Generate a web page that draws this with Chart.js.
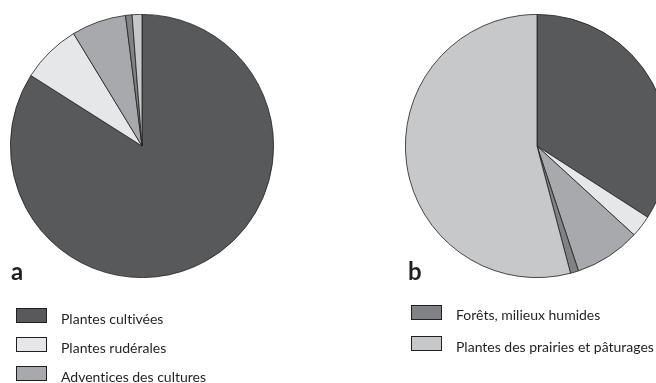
<!DOCTYPE html>
<html>
<head>
<meta charset="utf-8">
<script src="https://cdn.jsdelivr.net/npm/chart.js@4"></script>
<style>
  body { margin: 0; background: #fff; }
  #page { position: relative; width: 656px; height: 383px; overflow: hidden; font-family: Lato, sans-serif; color: #231f20; font-variant-ligatures: none; }
  .pie { position: absolute; width: 264px; height: 264px; }
  .tag { position: absolute; font: bold 24px Lato, sans-serif; line-height: 24px; }
  .row { position: absolute; height: 16px; }
  .sw { position: absolute; left: 0; width: 29px; height: 13px; border: 1px solid #231f20; }
  .txt { position: absolute; left: 45px; top: 2.5px; font-size: 14px; line-height: 16px; white-space: nowrap; }
</style>
</head>
<body>
<div id="page">
  <div class="pie" style="left:10px; top:14px;"><canvas id="pieA"></canvas></div>
  <div class="pie" style="left:405px; top:14px;"><canvas id="pieB"></canvas></div>
  <div class="tag" style="left:11px; top:259px;">a</div>
  <div class="tag" style="left:408px; top:259px;">b</div>
  <div id="legendA"></div>
  <div id="legendB"></div>
</div>
<script>
// categories, in drawing order (clockwise from 12 o'clock)
var categories = ['Plantes cultivées', 'Plantes rudérales', 'Adventices des cultures', 'Forêts, milieux humides', 'Plantes des prairies et pâturages'];
// shares in percent
var valuesA = [84.0, 7.3, 6.7, 0.8, 1.2];
var valuesB = [34.1, 2.7, 8.1, 1.0, 54.1];
var colors = ['#58595b', '#e6e7e8', '#a7a9ac', '#808285', '#c7c8ca'];

// which entries each legend lists
var legendAItems = [0, 1, 2];
var legendBItems = [3, 4];

function makePie(id, values) {
    var ctx = document.getElementById(id).getContext('2d');
    return new Chart(ctx, {
        type: 'pie',
        data: {
            labels: categories,
            datasets: [{
                data: values,
                backgroundColor: colors,
                borderColor: '#231f20',
                borderWidth: 0.8
            }]
        },
        options: {
            responsive: true,
            maintainAspectRatio: false,
            animation: false,
            layout: { padding: 0 },
            plugins: {
                legend: { display: false },
                tooltip: { enabled: false }
            }
        }
    });
}

makePie('pieA', valuesA);
makePie('pieB', valuesB);

function buildLegend(id, items, left, top, step) {
    var box = document.getElementById(id);
    items.forEach(function (idx, i) {
        var row = document.createElement('div');
        row.className = 'row';
        row.style.left = left + 'px';
        row.style.top = (top + i * step) + 'px';
        var sw = document.createElement('div');
        sw.className = 'sw';
        sw.style.background = colors[idx];
        var txt = document.createElement('div');
        txt.className = 'txt';
        txt.textContent = categories[idx];
        row.appendChild(sw);
        row.appendChild(txt);
        box.appendChild(row);
    });
}

buildLegend('legendA', legendAItems, 16, 308, 29.2);
buildLegend('legendB', legendBItems, 411, 304.5, 31.5);
</script>
</body>
</html>
